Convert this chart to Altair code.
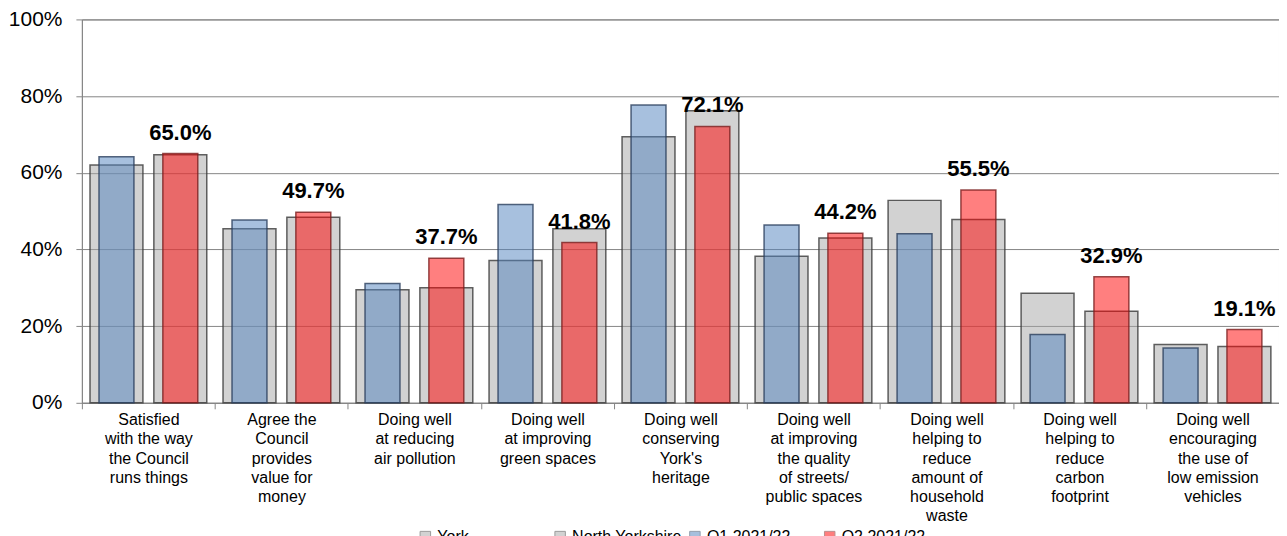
import altair as alt
import pandas as pd

categories = [
    "Satisfied|with the way|the Council|runs things",
    "Agree the|Council|provides|value for|money",
    "Doing well|at reducing|air pollution",
    "Doing well|at improving|green spaces",
    "Doing well|conserving|York's|heritage",
    "Doing well|at improving|the quality|of streets/|public spaces",
    "Doing well|helping to|reduce|amount of|household|waste",
    "Doing well|helping to|reduce|carbon|footprint",
    "Doing well|encouraging|the use of|low emission|vehicles",
]
york_q1 = [64.2, 47.7, 31.1, 51.7, 77.7, 46.4, 44.1, 17.8, 14.3]
york_q2 = [65.0, 49.7, 37.7, 41.8, 72.1, 44.2, 55.5, 32.9, 19.1]
bench_q1 = [62.0, 45.4, 29.5, 37.1, 69.4, 38.2, 52.8, 28.6, 15.2]
bench_q2 = [64.7, 48.4, 30.0, 45.4, 76.2, 43.0, 47.8, 23.9, 14.7]

series_names = ["York", "North Yorkshire", "Q1 2021/22", "Q2 2021/22"]
series_colors = ["#A6A6A6", "#A6A6A6", "#4F81BD", "#FF0000"]

rows_gray = []
rows_york = []
for i, c in enumerate(categories):
    rows_gray.append({"cat": c, "grp": "Q1", "val": bench_q1[i], "series": series_names[0]})
    rows_gray.append({"cat": c, "grp": "Q2", "val": bench_q2[i], "series": series_names[1]})
    rows_york.append({"cat": c, "grp": "Q1", "val": york_q1[i], "series": series_names[2]})
    rows_york.append({"cat": c, "grp": "Q2", "val": york_q2[i], "series": series_names[3]})
df_gray = pd.DataFrame(rows_gray)
df_york = pd.DataFrame(rows_york)

GRID = "#868686"
FONT = "Liberation Sans"

x_enc = alt.X(
    "cat:N",
    sort=categories,
    scale=alt.Scale(paddingInner=0, paddingOuter=0),
    axis=alt.Axis(
        title=None,
        labelAngle=0,
        labelExpr="split(datum.label, '|')",
        labelFontSize=16,
        labelLineHeight=19.2,
        labelColor="#000000",
        labelPadding=3,
        labelBaseline="top",
        tickBand="extent",
        tickSize=6,
        tickColor=GRID,
        domainColor=GRID,
        grid=False,
    ),
)
xo_enc = alt.XOffset(
    "grp:N",
    sort=["Q1", "Q2"],
    scale=alt.Scale(paddingInner=0, paddingOuter=0.0417),
)
y_enc = alt.Y(
    "val:Q",
    scale=alt.Scale(domain=[0, 100], nice=False),
    axis=alt.Axis(
        title=None,
        values=[0, 20, 40, 60, 80, 100],
        labelExpr="datum.value + '%'",
        labelFontSize=21,
        labelColor="#000000",
        labelPadding=14,
        tickSize=6,
        tickColor=GRID,
        domainColor=GRID,
        gridColor=GRID,
        gridWidth=1,
    ),
)
color_enc = alt.Color(
    "series:N",
    scale=alt.Scale(domain=series_names, range=series_colors),
    legend=alt.Legend(
        title=None,
        orient="none",
        legendX=336,
        legendY=510,
        direction="horizontal",
        columns=4,
        gridAlign="all",
        columnPadding=5,
        labelFontSize=16,
        labelColor="#000000",
        symbolType="square",
        symbolSize=110,
        symbolStrokeColor="#595959",
        symbolStrokeWidth=1,
        symbolOpacity=0.5,
    ),
)

gray = alt.Chart(df_gray).mark_bar(
    width=53, fillOpacity=0.5, stroke="#3a3a3a", strokeWidth=1.5, strokeOpacity=0.8
).encode(x=x_enc, xOffset=xo_enc, y=y_enc, color=color_enc)

york = alt.Chart(df_york).mark_bar(
    width=35, fillOpacity=0.5, strokeWidth=1.5, strokeOpacity=0.8
).encode(
    x=x_enc,
    xOffset=xo_enc,
    y=y_enc,
    color=color_enc,
    stroke=alt.Stroke(
        "series:N",
        scale=alt.Scale(domain=series_names, range=["#3a3a3a", "#3a3a3a", "#2a3f5c", "#7a1f1f"]),
        legend=None,
    ),
)

labels = alt.Chart(df_york[df_york["grp"] == "Q2"]).transform_calculate(
    lbl="format(datum.val, '.1f') + '%'"
).mark_text(
    dy=-21, fontSize=22, fontWeight="bold", color="#000000", baseline="middle"
).encode(x=x_enc, xOffset=xo_enc, y=y_enc, text="lbl:N")

chart = alt.layer(gray, york, labels).properties(
    width=1199,
    height=384,
    autosize=alt.AutoSizeParams(type="none"),
    padding={"left": 74, "top": 11, "right": 0, "bottom": 150},
).configure(font=FONT).configure_view(stroke=GRID, strokeWidth=1)

chart.save("out.html", embed_options={"renderer": "svg", "actions": False})
